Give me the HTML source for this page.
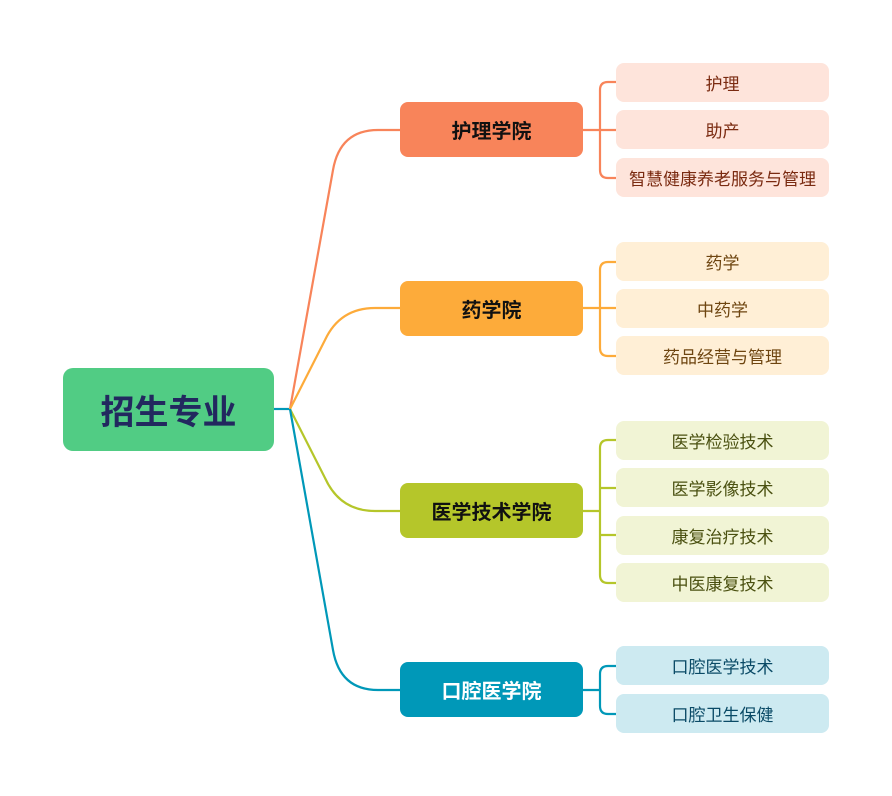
<!DOCTYPE html>
<html><head><meta charset="utf-8"><style>
body{margin:0;background:#fff;width:892px;height:796px;overflow:hidden;font-family:"Liberation Sans","Noto Sans CJK SC",sans-serif}
.b{position:absolute;display:flex;align-items:center;justify-content:center;border-radius:8px}
.r{left:63px;top:368px;width:211px;height:83px;background:#51CC84;color:#22285f;font-size:34px;font-weight:bold;border-radius:10px}
.m{left:400px;width:183px;height:55px;font-size:20px;font-weight:bold;color:#111}
.l{left:616px;width:213px;height:39px;font-size:17px}
</style></head><body>
<svg width="892" height="796" style="position:absolute;left:0;top:0" fill="none" stroke-width="2.2">
<path d="M274,409 H290" stroke="#0098B8"/>
<path d="M290,409 L333,170 Q340,130 378,130 H400" stroke="#F8845A"/>
<path d="M290,409 L325,340 Q340,308 375,308 H400" stroke="#FDAB3A"/>
<path d="M290,409 L325,478 Q340,511 375,511 H400" stroke="#B5C62A"/>
<path d="M290,409 L333,650 Q340,690 378,690 H400" stroke="#0098B8"/>
<g stroke="#F8845A"><path d="M583,130 H616"/><path d="M616,82 H608 Q600,82 600,90 V170 Q600,178 608,178 H616"/></g>
<g stroke="#FDAB3A"><path d="M583,308 H616"/><path d="M616,262 H608 Q600,262 600,270 V348 Q600,356 608,356 H616"/></g>
<g stroke="#B5C62A"><path d="M583,511 H600"/><path d="M616,440 H608 Q600,440 600,448 V575 Q600,583 608,583 H616"/><path d="M600,488 H616 M600,535 H616"/></g>
<g stroke="#0098B8"><path d="M583,690 H600"/><path d="M616,666 H608 Q600,666 600,674 V706 Q600,714 608,714 H616"/></g>
</svg>
<div class="b r">招生专业</div>
<div class="b m" style="top:102px;background:#F8845A">护理学院</div>
<div class="b m" style="top:281px;background:#FDAB3A">药学院</div>
<div class="b m" style="top:483px;background:#B5C62A">医学技术学院</div>
<div class="b m" style="top:662px;background:#0098B8;color:#fff">口腔医学院</div>
<div class="b l" style="top:63px;background:#FEE4DB;color:#7a2a10">护理</div>
<div class="b l" style="top:110px;background:#FEE4DB;color:#7a2a10">助产</div>
<div class="b l" style="top:158px;background:#FEE4DB;color:#7a2a10">智慧健康养老服务与管理</div>
<div class="b l" style="top:242px;background:#FFEFD6;color:#6e4510">药学</div>
<div class="b l" style="top:289px;background:#FFEFD6;color:#6e4510">中药学</div>
<div class="b l" style="top:336px;background:#FFEFD6;color:#6e4510">药品经营与管理</div>
<div class="b l" style="top:421px;background:#F1F4D5;color:#4a5010">医学检验技术</div>
<div class="b l" style="top:468px;background:#F1F4D5;color:#4a5010">医学影像技术</div>
<div class="b l" style="top:516px;background:#F1F4D5;color:#4a5010">康复治疗技术</div>
<div class="b l" style="top:563px;background:#F1F4D5;color:#4a5010">中医康复技术</div>
<div class="b l" style="top:646px;background:#CDEAF1;color:#0a4a66">口腔医学技术</div>
<div class="b l" style="top:694px;background:#CDEAF1;color:#0a4a66">口腔卫生保健</div>
</body></html>
